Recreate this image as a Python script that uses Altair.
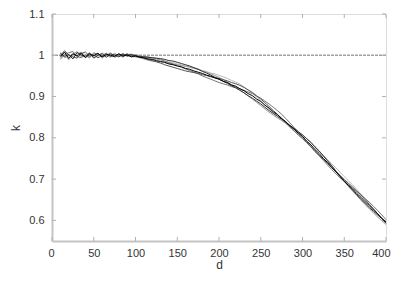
import altair as alt
import pandas as pd

d_vals = list(range(10, 401, 5))

run_a = [0.995, 1.008, 0.992, 1.004, 0.998, 1.006, 0.994, 1.003, 0.999, 1.005, 0.996, 1.002, 1.000, 0.997, 1.004, 0.998, 1.001, 0.996, 0.999,
         0.995, 0.994, 0.991, 0.990, 0.987, 0.985, 0.983, 0.979, 0.977, 0.974, 0.972, 0.968, 0.966, 0.962, 0.959, 0.956, 0.952, 0.949, 0.945, 0.942,
         0.937, 0.934, 0.928, 0.925, 0.919, 0.914, 0.907, 0.902, 0.894, 0.888,
         0.879, 0.872, 0.863, 0.856, 0.847, 0.839, 0.829, 0.821, 0.811, 0.803,
         0.792, 0.783, 0.771, 0.762, 0.750, 0.740, 0.728, 0.718, 0.706, 0.696,
         0.685, 0.676, 0.665, 0.656, 0.645, 0.636, 0.625, 0.616, 0.605, 0.596]
run_b = [1.004, 0.997, 1.002, 0.991, 1.007, 1.001, 0.996, 1.006, 0.993, 1.000, 1.004, 0.995, 1.003, 1.001, 0.996, 1.003, 0.999, 1.002, 0.998,
         0.997, 0.996, 0.995, 0.994, 0.993, 0.992, 0.990, 0.987, 0.986, 0.983, 0.980, 0.977, 0.974, 0.970, 0.966, 0.961, 0.957, 0.952, 0.947, 0.942,
         0.937, 0.932, 0.926, 0.921, 0.915, 0.909, 0.902, 0.896, 0.889, 0.882,
         0.874, 0.866, 0.859, 0.852, 0.845, 0.838, 0.830, 0.823, 0.815, 0.807,
         0.798, 0.789, 0.778, 0.768, 0.756, 0.744, 0.732, 0.719, 0.707, 0.695,
         0.684, 0.673, 0.662, 0.651, 0.641, 0.631, 0.622, 0.613, 0.604, 0.595]
run_c = [0.999, 1.011, 1.001, 0.996, 0.993, 1.004, 1.008, 0.998, 1.001, 0.994, 0.999, 1.005, 0.997, 0.999, 1.002, 0.997, 1.003, 0.999, 0.997,
         0.996, 0.993, 0.990, 0.987, 0.984, 0.981, 0.977, 0.974, 0.971, 0.968, 0.965, 0.962, 0.960, 0.958, 0.956, 0.953, 0.951, 0.948, 0.946, 0.944,
         0.941, 0.938, 0.934, 0.931, 0.927, 0.922, 0.916, 0.910, 0.902, 0.894,
         0.885, 0.876, 0.866, 0.857, 0.847, 0.837, 0.827, 0.817, 0.807, 0.798,
         0.788, 0.778, 0.767, 0.758, 0.748, 0.738, 0.728, 0.718, 0.709, 0.699,
         0.690, 0.681, 0.671, 0.661, 0.650, 0.639, 0.628, 0.616, 0.604, 0.593]
run_d = [0.990, 1.002, 1.006, 1.009, 0.997, 0.994, 1.001, 0.995, 1.006, 1.002, 0.997, 0.999, 1.006, 0.995, 1.000, 1.004, 0.997, 1.000, 1.001,
         0.998, 0.997, 0.996, 0.994, 0.992, 0.990, 0.986, 0.982, 0.979, 0.975, 0.971, 0.967, 0.963, 0.959, 0.955, 0.950, 0.946, 0.942, 0.938, 0.934,
         0.931, 0.928, 0.924, 0.922, 0.919, 0.915, 0.911, 0.907, 0.901, 0.896,
         0.889, 0.882, 0.874, 0.866, 0.857, 0.847, 0.836, 0.825, 0.814, 0.803,
         0.791, 0.779, 0.767, 0.756, 0.745, 0.734, 0.723, 0.713, 0.703, 0.694,
         0.686, 0.678, 0.670, 0.662, 0.653, 0.644, 0.634, 0.624, 0.613, 0.602]
run_e = [1.007, 0.994, 0.998, 1.002, 1.009, 0.996, 1.000, 1.004, 0.997, 1.003, 0.993, 1.001, 0.998, 1.005, 0.998, 1.000, 1.004, 0.997, 0.996,
         0.994, 0.991, 0.988, 0.986, 0.985, 0.984, 0.982, 0.980, 0.979, 0.977, 0.975, 0.973, 0.971, 0.968, 0.966, 0.962, 0.959, 0.955, 0.951, 0.946,
         0.941, 0.935, 0.929, 0.923, 0.916, 0.909, 0.901, 0.894, 0.886, 0.878,
         0.870, 0.862, 0.855, 0.848, 0.842, 0.835, 0.828, 0.821, 0.814, 0.807,
         0.798, 0.789, 0.778, 0.768, 0.757, 0.746, 0.733, 0.720, 0.707, 0.694,
         0.682, 0.671, 0.660, 0.649, 0.638, 0.628, 0.618, 0.608, 0.599, 0.590]
run_f = [1.002, 1.003, 0.988, 1.000, 1.003, 1.008, 0.999, 0.993, 1.004, 0.997, 1.006, 0.999, 0.995, 1.002, 0.999, 0.995, 1.002, 1.003, 1.000,
         0.996, 0.994, 0.993, 0.991, 0.990, 0.988, 0.986, 0.983, 0.982, 0.979, 0.977, 0.974, 0.972, 0.969, 0.967, 0.963, 0.961, 0.957, 0.955, 0.951,
         0.948, 0.944, 0.939, 0.935, 0.930, 0.923, 0.916, 0.908, 0.899, 0.890,
         0.880, 0.870, 0.861, 0.852, 0.843, 0.834, 0.825, 0.816, 0.808, 0.800,
         0.791, 0.783, 0.774, 0.766, 0.756, 0.747, 0.737, 0.727, 0.717, 0.706,
         0.696, 0.686, 0.675, 0.664, 0.652, 0.640, 0.628, 0.616, 0.604, 0.593]

runs = {"f": run_f, "e": run_e, "d": run_d, "c": run_c, "b": run_b, "a": run_a}
run_colors = ["#bbbbbb", "#999999", "#777777", "#555555", "#333333", "#000000"]

x_ticks = [0, 50, 100, 150, 200, 250, 300, 350, 400]
y_ticks = [0.6, 0.7, 0.8, 0.9, 1.0, 1.1]
reference_level = [1.0]

rows = []
for name, vals in runs.items():
    for d, k in zip(d_vals, vals):
        rows.append({"d": d, "k": k, "run": name})
df = pd.DataFrame(rows)

W, H = 334, 227
xs = alt.Scale(domain=[0, 400], nice=False, zero=False)
ys = alt.Scale(domain=[0.55, 1.1], nice=False, zero=False)

lab_font = "Liberation Sans"

x_axis = alt.Axis(title="d", values=x_ticks, ticks=False, labelPadding=6, grid=False,
                  labelFlush=True, labelFlushOffset=4,
                  domainColor="#c4c4c4", domainWidth=2, labelFont=lab_font, labelFontSize=11,
                  labelColor="#333333", titleFont=lab_font, titleFontSize=12, titleFontWeight="normal",
                  titleColor="#333333", titlePadding=1)
y_axis = alt.Axis(title="k", values=y_ticks, ticks=False, labelPadding=8, grid=False,
                  domainColor="#c4c4c4", domainWidth=2, labelFont=lab_font, labelFontSize=11,
                  labelColor="#333333", titleFont=lab_font, titleFontSize=12, titleFontWeight="normal",
                  titleColor="#333333", titlePadding=6, format="~g")

ref = alt.Chart(pd.DataFrame({"v": reference_level})).mark_rule(
    color="#a0a0a0", strokeWidth=1.5, strokeDash=[3, 1]
).encode(y=alt.Y("v:Q", scale=ys, axis=y_axis))

lines = alt.Chart(df).mark_line(strokeWidth=1.0).encode(
    x=alt.X("d:Q", scale=xs, axis=x_axis),
    y=alt.Y("k:Q", scale=ys, axis=y_axis),
    color=alt.Color("run:N", scale=alt.Scale(domain=list(runs.keys()), range=run_colors), legend=None),
    order=alt.Order("d:Q"),
)

ydf = pd.DataFrame({"v": y_ticks})
xdf = pd.DataFrame({"v": x_ticks})
tick_col = "#b0b0b0"
yt_left = alt.Chart(ydf).mark_rule(color=tick_col).encode(y=alt.Y("v:Q", scale=ys), x=alt.value(0), x2=alt.value(4))
yt_right = alt.Chart(ydf).mark_rule(color=tick_col).encode(y=alt.Y("v:Q", scale=ys), x=alt.value(W - 4), x2=alt.value(W))
xt_bot = alt.Chart(xdf).mark_rule(color=tick_col).encode(x=alt.X("v:Q", scale=xs), y=alt.value(H - 4), y2=alt.value(H))
xt_top = alt.Chart(xdf).mark_rule(color=tick_col).encode(x=alt.X("v:Q", scale=xs), y=alt.value(0), y2=alt.value(4))

chart = alt.layer(ref, yt_left, yt_right, xt_bot, xt_top, lines).properties(
    width=W, height=H,
    autosize=alt.AutoSizeParams(type="none"),
    padding={"left": 44, "top": 6, "right": 5, "bottom": 29},
).configure_view(stroke="#808080", strokeWidth=1).configure(background="white")

chart.save("out.html", embed_options={"renderer": "svg", "actions": False})
